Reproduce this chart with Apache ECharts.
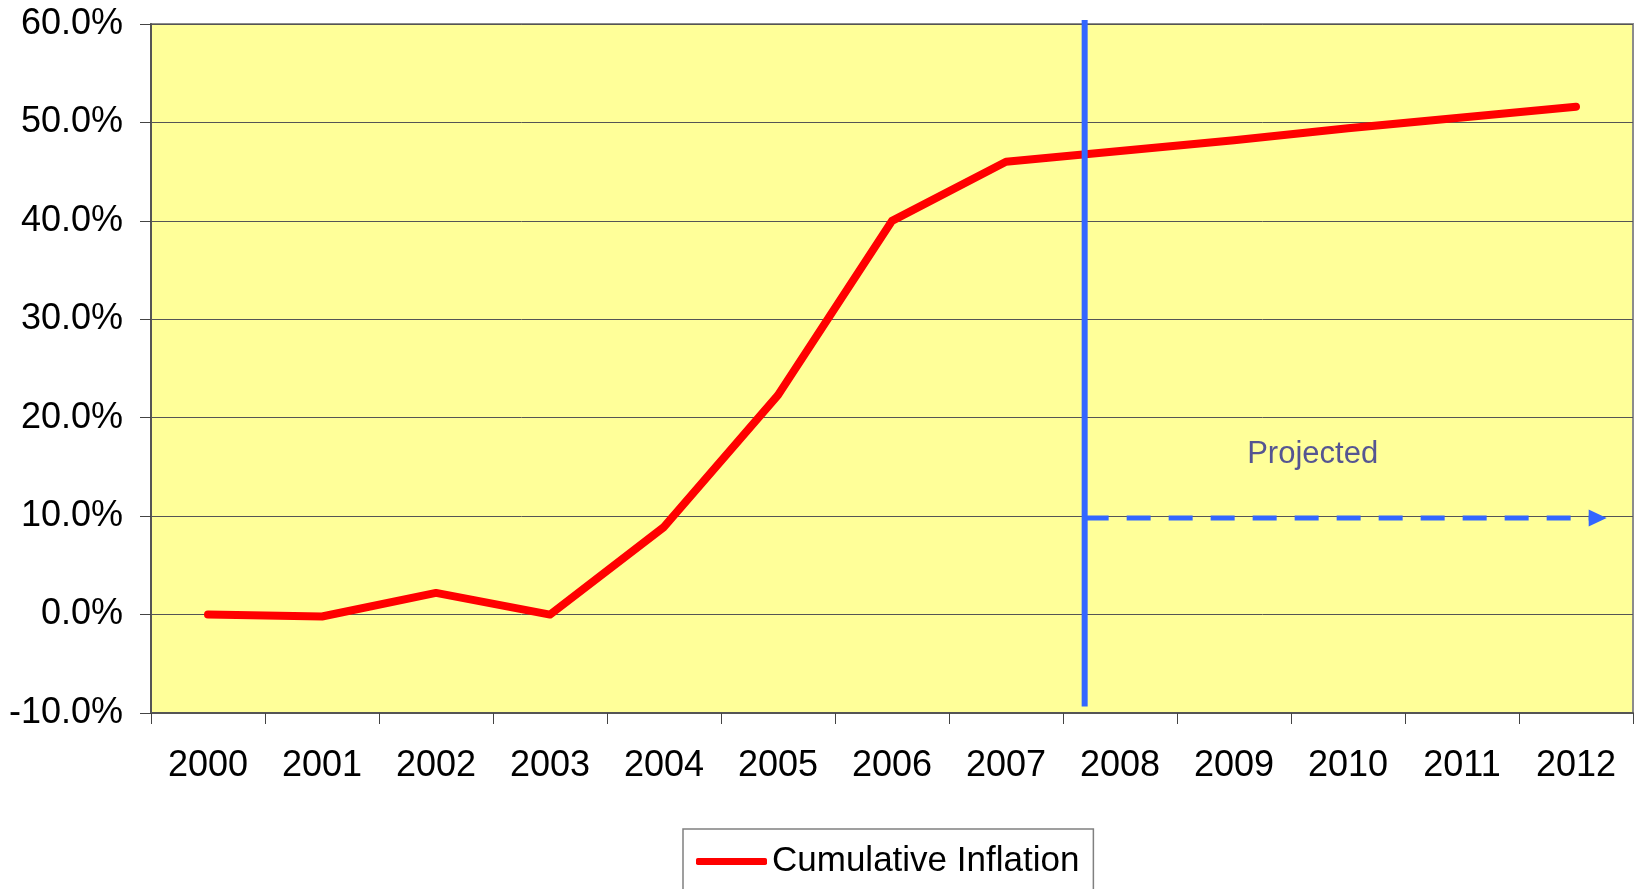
<!DOCTYPE html>
<html>
<head>
<meta charset="utf-8">
<script src="https://cdn.jsdelivr.net/npm/echarts@6/dist/echarts.min.js"></script>
<style>
  html, body { margin: 0; padding: 0; background: #fff; }
  #chart { width: 1636px; height: 889px; }
</style>
</head>
<body>
<div id="chart"></div>
<script>
// chart data
const years = ['2000', '2001', '2002', '2003', '2004', '2005', '2006', '2007', '2008', '2009', '2010', '2011', '2012'];
const inflation = [0.0, -0.2, 2.2, 0.0, 8.9, 22.3, 40.0, 46.0, 47.1, 48.2, 49.4, 50.5, 51.6];
const yTicks = { min: -10, max: 60, step: 10 };

// annotation: start of projection (category index, percent)
const projStart = 7.69;
const projLine = [[projStart, -9.35], [projStart, 60.4]];
const projArrow = [[projStart, 9.8], [12.19, 9.8]];
const projLabel = [[9.69, 16.3]];

const FONT = 'Liberation Sans, Arial, sans-serif';
const chart = echarts.init(document.getElementById('chart'));

const option = {
  animation: false,
  textStyle: { fontFamily: FONT },
  grid: {
    left: 151,
    right: 3,
    top: 24,
    bottom: 176,
    show: true,
    backgroundColor: '#FFFF99',
    borderColor: '#8c8c8c',
    borderWidth: 2
  },
  legend: {
    data: ['Cumulative Inflation'],
    left: 683,
    top: 829,
    padding: [15, 14, 24, 13],
    backgroundColor: '#fff',
    borderColor: '#808080',
    borderWidth: 1.5,
    icon: 'roundRect',
    itemWidth: 71,
    itemHeight: 7,
    textStyle: { fontSize: 35, color: '#000', fontFamily: FONT }
  },
  xAxis: [
    {
      type: 'category',
      data: years,
      boundaryGap: true,
      axisLine: { onZero: false, lineStyle: { color: '#555', width: 2 } },
      axisTick: { show: true, length: 11, lineStyle: { color: '#444' } },
      axisLabel: { interval: 0, margin: 35, fontSize: 36, color: '#000', fontFamily: FONT },
      splitLine: { show: false }
    },
    {
      type: 'value',
      min: -0.5,
      max: 12.5,
      show: false
    }
  ],
  yAxis: {
    type: 'value',
    min: yTicks.min,
    max: yTicks.max,
    interval: yTicks.step,
    axisLine: { show: true, onZero: false, lineStyle: { color: '#555', width: 2 } },
    axisTick: { show: true, length: 11, lineStyle: { color: '#444' } },
    axisLabel: {
      margin: 28,
      fontSize: 36,
      color: '#000',
      fontFamily: FONT,
      formatter: (v) => v.toFixed(1) + '%'
    },
    splitLine: { show: true, lineStyle: { color: '#555', width: 1 } }
  },
  series: [
    {
      name: 'Cumulative Inflation',
      type: 'line',
      data: inflation,
      symbol: 'none',
      color: '#FF0000',
      lineStyle: { color: '#FF0000', width: 8, cap: 'round', join: 'round' },
      z: 3
    },
    {
      name: 'projLine',
      type: 'line',
      xAxisIndex: 1,
      data: projLine,
      symbol: 'none',
      clip: false,
      lineStyle: { color: '#3366FF', width: 6 },
      z: 4
    },
    {
      name: 'projArrow',
      type: 'line',
      xAxisIndex: 1,
      data: projArrow,
      showSymbol: true,
      symbol: (val, params) => (params.dataIndex === 1 ? 'triangle' : 'none'),
      symbolSize: [17, 18],
      symbolRotate: -90,
      itemStyle: { color: '#3366FF' },
      lineStyle: { color: '#3366FF', width: 5, type: [24, 18] },
      z: 4
    },
    {
      name: 'projLabel',
      type: 'scatter',
      xAxisIndex: 1,
      data: projLabel,
      symbolSize: 0,
      label: {
        show: true,
        position: 'inside',
        formatter: 'Projected',
        fontSize: 31,
        color: '#2B2B90',
        fontFamily: FONT
      },
      z: 5
    }
  ]
};

chart.setOption(option);
window.addEventListener('resize', () => {
  chart.resize();
});
</script>
</body>
</html>
